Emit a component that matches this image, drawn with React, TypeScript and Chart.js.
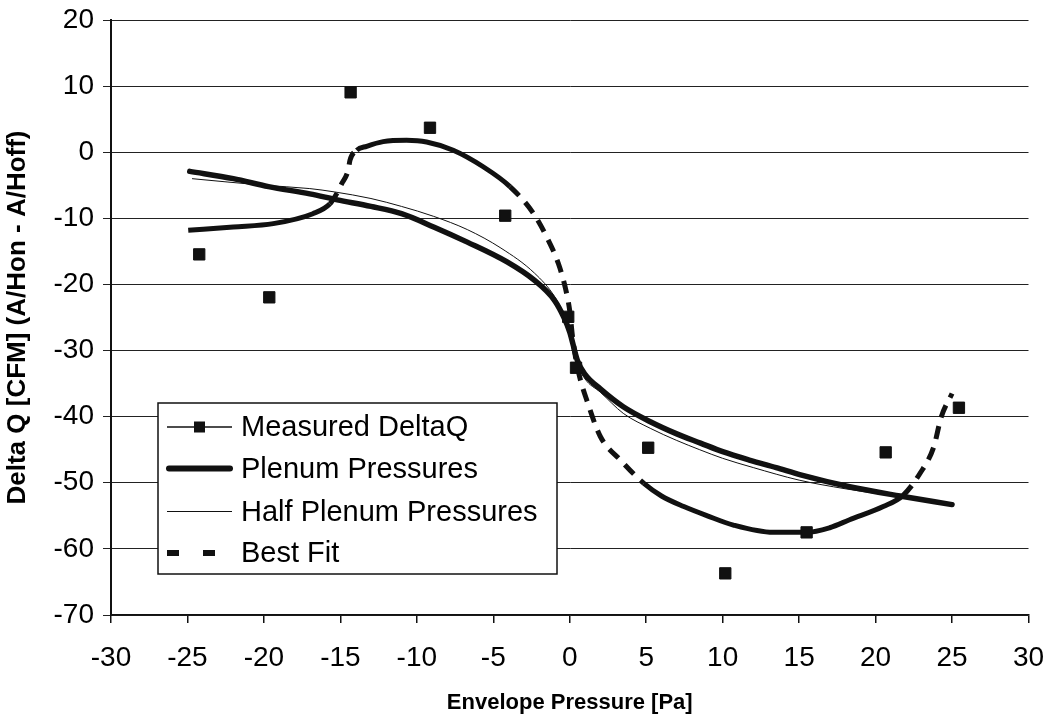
import React, { useEffect, useRef } from 'react';
import { Chart, registerables } from 'chart.js';

Chart.register(...registerables);

// ---- data ----
const measuredX = [-24.23, -19.65, -14.33, -9.14, -4.22, -0.1, 0.41, 5.13, 10.17, 15.49, 20.66, 25.45];
const measuredY = [-15.45, -21.95, 9.06, 3.7, -9.6, -24.9, -32.6, -44.7, -63.7, -57.5, -45.4, -38.65];

const plenumX = [-24.85, -22, -19.7, -17, -15.2, -13, -11.0, -8.9, -6.7, -4.1, -2.3, -1.0, -0.4, 0, 0.5, 1.0, 2.0, 3.5, 5.3, 7, 8.55, 10, 11.8, 13.5, 15.1, 18.3, 21.6, 25.0];
const plenumY = [-2.9, -4.0, -5.2, -6.3, -7.2, -8.2, -9.3, -11.3, -13.6, -16.6, -19.4, -22.4, -24.9, -27.2, -31.5, -33.6, -35.8, -38.5, -40.8, -42.6, -44.0, -45.3, -46.6, -47.7, -48.8, -50.6, -52.0, -53.3];

const halfX = [-24.7, -20, -17, -15.4, -13, -11, -8.9, -6.7, -4.5, -2.3, -1.0, -0.4, 0, 0.5, 1.0, 2.0, 3.5, 5.3, 7, 8.5, 10, 12, 15, 18, 20, 22, 25];
const halfY = [-4.0, -5.0, -5.5, -6.0, -7.0, -8.2, -9.7, -11.7, -14.5, -18.3, -21.8, -24.5, -27.3, -32.0, -34.3, -36.3, -39.5, -41.8, -43.6, -45.0, -46.3, -47.7, -49.6, -50.9, -51.6, -52.3, -53.3];

const bestX = [-24.95, -22, -19.39, -16.8, -15.68, -15.25, -14.92, -14.49, -14.37, -13.93, -13.28, -12.2, -10.67, -9.36, -7.62, -5.66, -3.91, -2.39, -1.51, -0.75, -0.31, 0, 0.18, 0.5, 1.26, 2.0, 3.33, 4.85, 6, 7.46, 9, 10.7, 13.3, 15.5, 17, 18.3, 20.5, 21.8, 22.9, 23.8, 24.3, 25.0];
const bestY = [-11.8, -11.3, -10.8, -9.3, -7.8, -6.3, -4.8, -2.7, -1.2, 0.3, 0.9, 1.6, 1.8, 1.55, 0.3, -2.2, -5.2, -9.2, -12.8, -16.8, -20.3, -24.0, -27.9, -32.5, -38.5, -43.0, -46.6, -50.1, -52.0, -53.6, -55.0, -56.4, -57.5, -57.5, -56.8, -55.6, -53.6, -51.9, -48.6, -44.6, -40.0, -36.5];

const seriesLabels = ['Measured DeltaQ', 'Plenum Pressures', 'Half Plenum Pressures', 'Best Fit'];
const xTitle = 'Envelope Pressure [Pa]';
const yTitle = 'Delta Q [CFM] (A/Hon - A/Hoff)';
const xMin = -30, xMax = 30, xStep = 5;
const yMin = -70, yMax = 20, yStep = 10;

const FONT = '"Liberation Sans", Arial, Helvetica, sans-serif';
const INK = '#111';

const pts = (xs: number[], ys: number[]) => xs.map((x, i) => ({ x, y: ys[i] }));

// legend drawn as a boxed legend inside the plot area
const boxLegend = {
  id: 'boxLegend',
  afterDraw(chart: any) {
    const ctx = chart.ctx as CanvasRenderingContext2D;
    const area = chart.chartArea;
    const L = area.left + 47, T = area.top + 383;
    const W = 399, H = 171;
    ctx.save();
    ctx.fillStyle = '#fff';
    ctx.fillRect(L, T, W, H);
    ctx.strokeStyle = INK;
    ctx.lineWidth = 1.5;
    ctx.strokeRect(L, T, W, H);
    const rows = [24, 65.5, 108.5, 150];
    const x0 = L + 9, x1 = L + 74, tx = L + 83;
    ctx.font = `29px ${FONT}`;
    ctx.textBaseline = 'middle';
    ctx.textAlign = 'left';
    chart.data.datasets.forEach((ds: any, i: number) => {
      const y = T + rows[i];
      ctx.strokeStyle = INK;
      ctx.fillStyle = INK;
      ctx.setLineDash([]);
      if (i === 0) {
        ctx.lineWidth = 1.5;
        ctx.beginPath(); ctx.moveTo(x0, y); ctx.lineTo(x1, y); ctx.stroke();
        ctx.fillRect((x0 + x1) / 2 - 5.5, y - 5.5, 11, 11);
      } else if (i === 1) {
        ctx.lineWidth = 6; ctx.lineCap = 'round';
        ctx.beginPath(); ctx.moveTo(x0 + 2, y); ctx.lineTo(x1 - 2, y); ctx.stroke();
        ctx.lineCap = 'butt';
      } else if (i === 2) {
        ctx.lineWidth = 1;
        ctx.beginPath(); ctx.moveTo(x0, y); ctx.lineTo(x1, y); ctx.stroke();
      } else {
        ctx.lineWidth = 6;
        ctx.beginPath(); ctx.moveTo(x0, y); ctx.lineTo(x0 + 12, y);
        ctx.moveTo(x0 + 36, y); ctx.lineTo(x0 + 48, y); ctx.stroke();
      }
      ctx.fillStyle = '#000';
      ctx.fillText(ds.label, tx, y + 1);
    });
    ctx.restore();
  },
};

export default function App() {
  const ref = useRef<HTMLCanvasElement>(null);
  useEffect(() => {
    if (!ref.current) return;
    const chart = new Chart(ref.current, {
      type: 'scatter',
      data: {
        datasets: [
          {
            label: seriesLabels[0],
            data: pts(measuredX, measuredY),
            showLine: false,
            pointStyle: 'rect',
            pointRadius: 8,
            pointBorderWidth: 1,
            pointBackgroundColor: INK,
            pointBorderColor: INK,
          },
          {
            label: seriesLabels[1],
            data: pts(plenumX, plenumY),
            showLine: true,
            borderColor: INK,
            borderWidth: 5.5,
            pointRadius: 0,
            cubicInterpolationMode: 'monotone',
            borderCapStyle: 'round',
            borderJoinStyle: 'round',
          },
          {
            label: seriesLabels[2],
            data: pts(halfX, halfY),
            showLine: true,
            borderColor: INK,
            borderWidth: 1,
            pointRadius: 0,
            cubicInterpolationMode: 'monotone',
          },
          {
            label: seriesLabels[3],
            data: pts(bestX, bestY),
            showLine: true,
            borderColor: INK,
            borderWidth: 5,
            pointRadius: 0,
            borderDash: [],
            cubicInterpolationMode: 'monotone',
            borderJoinStyle: 'round',
            segment: {
              borderDash: (c: any) => {
                const dx = Math.abs(c.p1.x - c.p0.x);
                const dy = Math.abs(c.p1.y - c.p0.y);
                return dy > 0.9 * dx ? [13, 9] : undefined;
              },
            },
          },
        ],
      },
      options: {
        animation: false,
        responsive: true,
        maintainAspectRatio: false,
        layout: { padding: { top: 20, right: 18.5, left: 0, bottom: 0 } },
        plugins: {
          legend: { display: false },
          tooltip: { enabled: false },
        },
        scales: {
          x: {
            type: 'linear',
            min: xMin,
            max: xMax,
            afterFit: (s: any) => { s.height = 103; s.paddingLeft = 0; s.paddingRight = 0; },
            ticks: {
              stepSize: xStep,
              color: '#000',
              font: { family: FONT, size: 28 },
              padding: 18,
              maxRotation: 0,
            },
            grid: { drawOnChartArea: false, drawTicks: true, tickLength: 8, color: INK, lineWidth: 1.5 },
            border: { display: true, color: INK, width: 1.5 },
            title: {
              display: true,
              text: xTitle,
              color: '#000',
              font: { family: FONT, size: 22, weight: 'bold' },
              padding: { top: 0, bottom: 2 },
            },
          },
          y: {
            type: 'linear',
            min: yMin,
            max: yMax,
            afterFit: (s: any) => { s.width = 111; s.paddingTop = 0; s.paddingBottom = 0; },
            ticks: {
              stepSize: yStep,
              color: '#000',
              font: { family: FONT, size: 28 },
              padding: 9,
            },
            grid: { drawOnChartArea: true, drawTicks: true, tickLength: 8, color: '#222', lineWidth: 1 },
            border: { display: true, color: INK, width: 2 },
            title: {
              display: true,
              text: yTitle,
              color: '#000',
              font: { family: FONT, size: 26, weight: 'bold' },
              padding: { top: 2, bottom: 0 },
            },
          },
        },
      },
      plugins: [boxLegend],
    } as any);
    return () => chart.destroy();
  }, []);
  return (
    <div style={{ position: 'fixed', left: 0, top: 0, width: 1047, height: 718, background: '#fff' }}>
      <canvas ref={ref} />
    </div>
  );
}
